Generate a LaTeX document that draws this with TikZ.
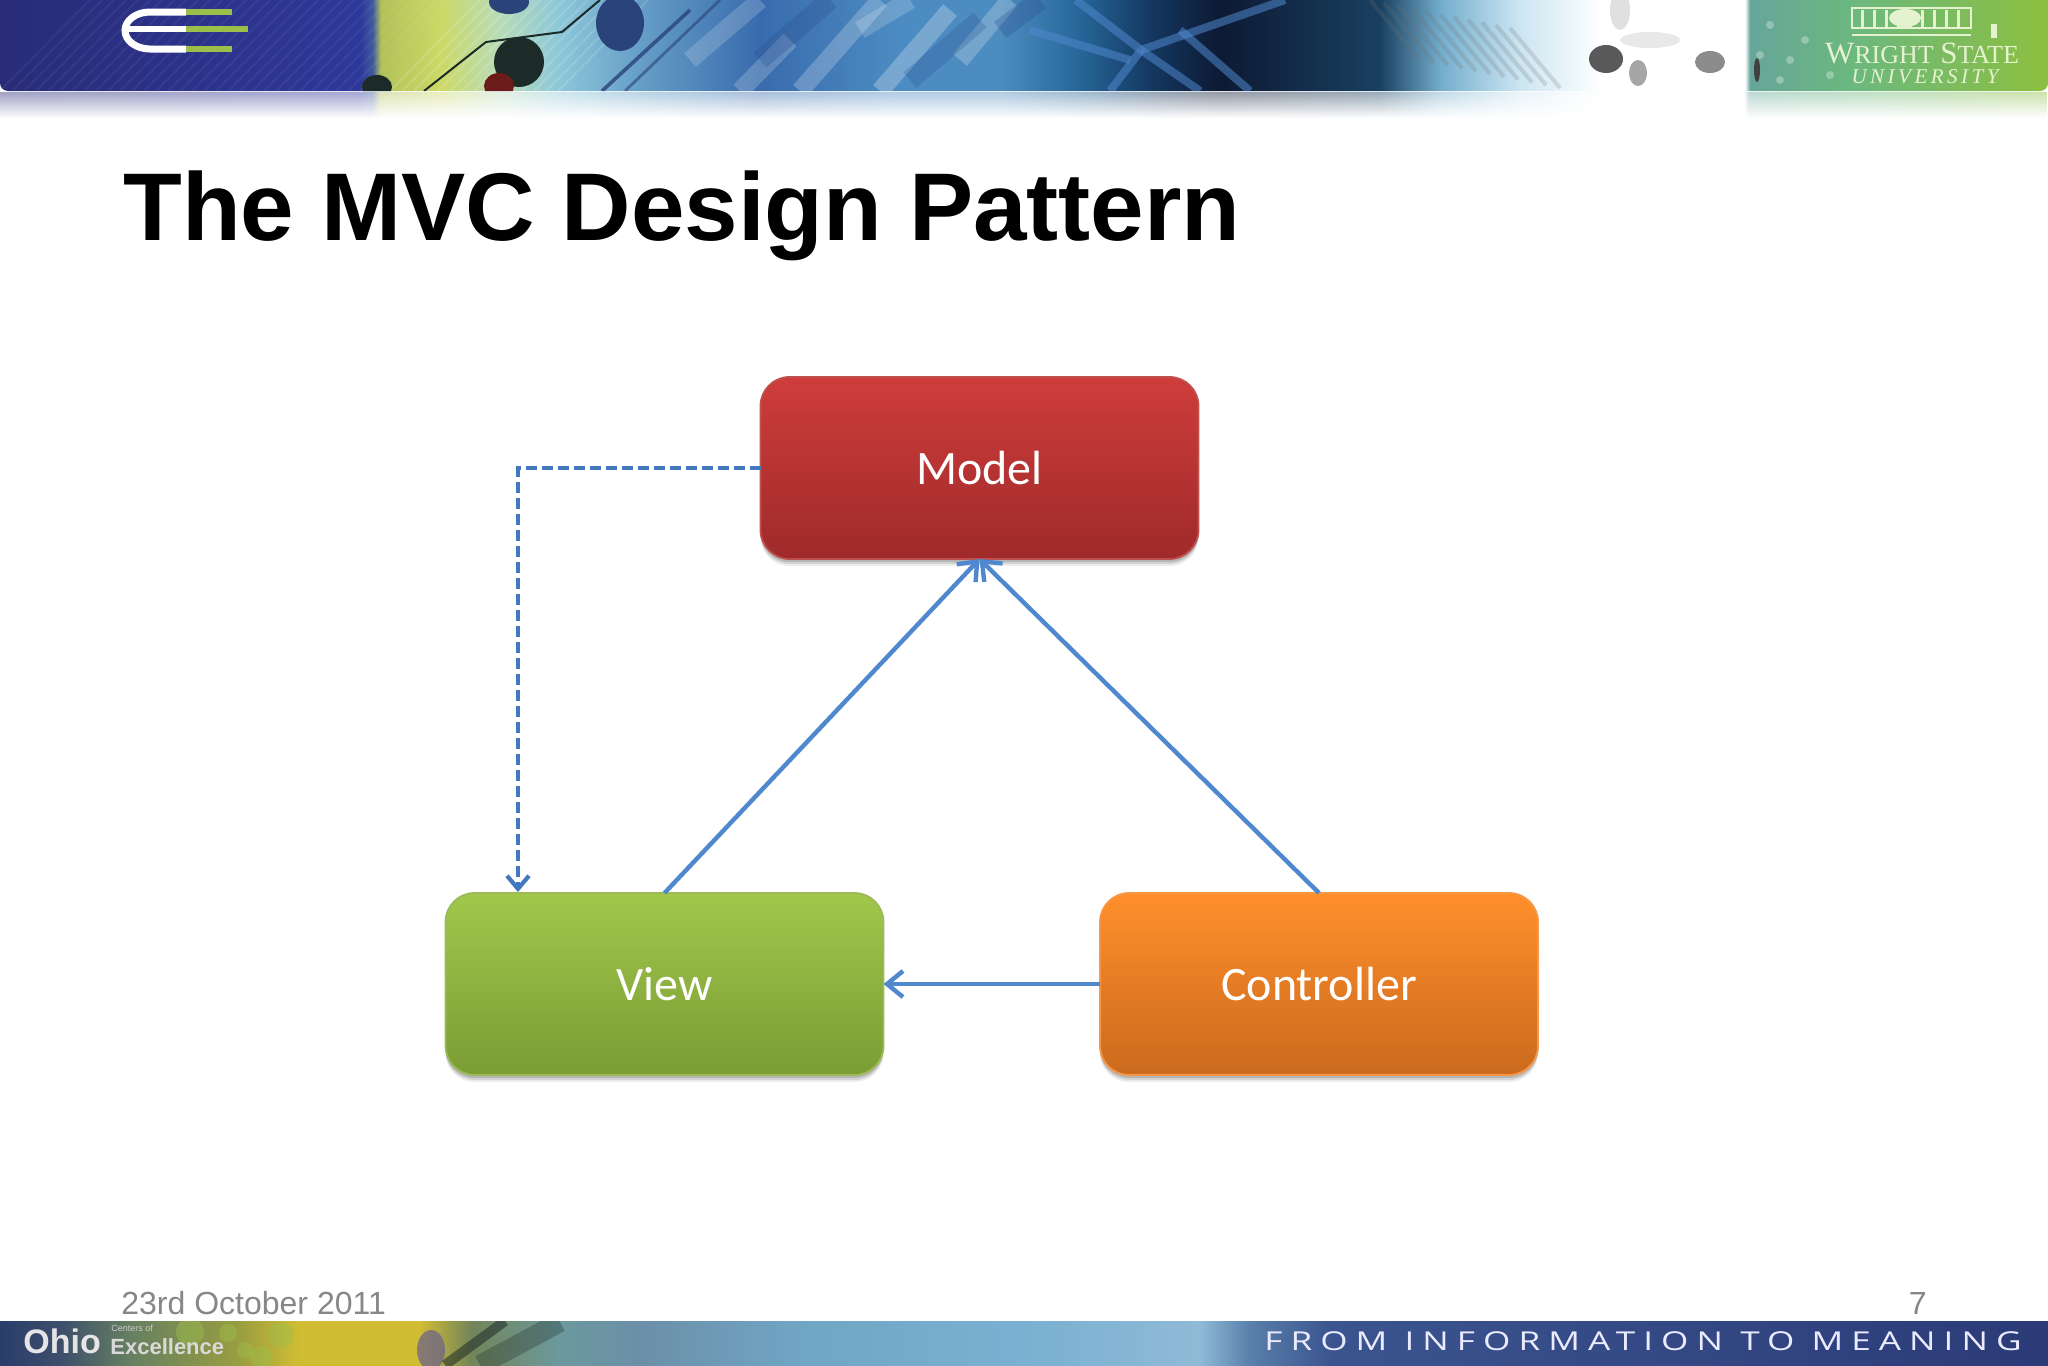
\documentclass[tikz,border=0pt]{standalone}
\usepackage{fontspec}
\setmainfont{Liberation Sans}
\newfontfamily\carlito{Carlito}
\newfontfamily\wsufont{Liberation Serif}
\newfontfamily\tagfont[LetterSpace=31,FakeStretch=1.35]{Open Sans}
\usetikzlibrary{arrows.meta,fadings}
\pgfdeclarehorizontalshading{topband}{100bp}{rgb(0bp)=(.16,.17,.47);rgb(25bp)=(.16,.17,.47);rgb(33.8bp)=(.18,.22,.60);rgb(34.1bp)=(.25,.35,.62);rgb(34.3bp)=(.70,.76,.35);rgb(35.75bp)=(.80,.85,.40);rgb(37.2bp)=(.72,.86,.72);rgb(38.65bp)=(.55,.78,.85);rgb(40.6bp)=(.40,.62,.78);rgb(43.55bp)=(.22,.42,.68);rgb(47bp)=(.30,.55,.76);rgb(49.4bp)=(.30,.55,.75);rgb(51.35bp)=(.15,.40,.60);rgb(53.08bp)=(.08,.22,.38);rgb(54.79bp)=(.05,.10,.20);rgb(58.69bp)=(.10,.25,.38);rgb(60.16bp)=(.45,.68,.80);rgb(62.1bp)=(.80,.90,.95);rgb(64.06bp)=(1,1,1);rgb(67.6bp)=(1,1,1);rgb(67.72bp)=(.40,.65,.60);rgb(70.15bp)=(.42,.72,.50);rgb(75bp)=(.55,.75,.25);rgb(100bp)=(.55,.75,.25)}
\pgfdeclarehorizontalshading{bottomband}{100bp}{rgb(0bp)=(.16,.24,.42);rgb(25bp)=(.16,.24,.42);rgb(26.5bp)=(.24,.31,.42);rgb(28.17bp)=(.40,.50,.38);rgb(30.86bp)=(.60,.62,.25);rgb(32.3bp)=(.82,.74,.20);rgb(35.25bp)=(.82,.74,.20);rgb(36.5bp)=(.45,.52,.35);rgb(38.67bp)=(.42,.60,.62);rgb(40.6bp)=(.42,.56,.66);rgb(44.5bp)=(.44,.65,.77);rgb(50bp)=(.48,.69,.82);rgb(54.3bp)=(.56,.73,.84);rgb(55.5bp)=(.35,.50,.67);rgb(57.5bp)=(.23,.33,.56);rgb(75bp)=(.17,.23,.47);rgb(100bp)=(.17,.23,.47)}
\definecolor{linkblue}{HTML}{4F88CE}
\definecolor{dashblue}{HTML}{4279BC}
\definecolor{modeltop}{HTML}{CE3D3B}
\definecolor{modelbot}{HTML}{9F2A2A}
\definecolor{modelline}{HTML}{C0504D}
\definecolor{viewtop}{HTML}{A2C74B}
\definecolor{viewbot}{HTML}{7A9C34}
\definecolor{viewline}{HTML}{9BBB59}
\definecolor{ctrltop}{HTML}{FF8F2B}
\definecolor{ctrlbot}{HTML}{CB6A1E}
\definecolor{ctrlline}{HTML}{F79646}
\definecolor{logogreen}{HTML}{9CBF4A}
\definecolor{panelpale}{HTML}{E4F2D0}
\definecolor{blockdark}{HTML}{2B4F8E}
\definecolor{blobdark}{HTML}{1C2A28}
\definecolor{blobblue}{HTML}{2A4378}
\definecolor{blobgrape}{HTML}{6E6488}
\tikzset{
  x=.5pt,y=-.5pt,
  boxshadow/.style={preaction={draw=none,fill=black,opacity=.07,transform canvas={yshift=-3.5pt}},
                    preaction={draw=none,fill=black,opacity=.10,transform canvas={yshift=-2.5pt}},
                    preaction={draw=none,fill=black,opacity=.14,transform canvas={yshift=-1.5pt}}},
  mvcbox/.style={boxshadow,rounded corners=14.5pt,minimum width=219pt,minimum height=91pt,inner sep=0pt,outer sep=0pt,
    line width=.9pt,text=white,font=\carlito\fontsize{24}{28}\selectfont},
  link/.style={draw=linkblue,line width=2.2pt,-{Straight Barb[length=8pt,width=13pt,line width=2.2pt]}},
  dashlink/.style={draw=dashblue,line width=2.1pt,dash pattern=on 5.5pt off 2.5pt,-{Straight Barb[length=6.5pt,width=11pt,line width=2.1pt]}},
  blob/.style={fill=#1,draw=none},
}
\begin{document}
\begin{tikzpicture}
\useasboundingbox (0,0) rectangle (2048,1365);
\fill[white] (0,0) rectangle (2048,1365);

% --- top banner ---
\shade[shading=topband,opacity=.42,path fading=south] (0,93) rectangle (2048,118);
\begin{scope}
\clip[rounded corners=4pt] (0,-20) rectangle (2048,91);
\shade[shading=topband] (0,-20) rectangle (2048,91);
\foreach \i in {0,12,...,360}{\draw[white,opacity=.05,line width=1pt] (\i,91) -- (\i+90,0);}
\foreach \i in {390,402,...,560}{\draw[white,opacity=.14,line width=1pt] (\i,91) -- (\i+90,0);}
% circuit board
\foreach \a/\b/\c/\d/\op in {690/60/760/0/.18,800/91/880/0/.22,880/91/950/10/.25,960/60/1010/0/.22,860/30/910/0/.18,740/91/790/40/.2}{
  \draw[white,line width=9pt,opacity=\op] (\a,\b) -- (\c,\d);}
\foreach \a/\b/\c/\d/\op in {760/60/830/0/.3,910/80/980/20/.25,1000/30/1040/0/.3}{
  \draw[blockdark,line width=10pt,opacity=\op] (\a,\b) -- (\c,\d);}
\draw[blobblue,line width=1.8pt,opacity=.8] (602,91) -- (690,10);
\draw[blobblue,line width=1.4pt,opacity=.6] (625,91) -- (720,0);
\draw[blobdark,line width=1pt] (424,91) -- (486,42) -- (562,32) -- (600,0);
\fill[blob=blobdark] (519,62) ellipse (25 and 25);
\fill[blob=blobblue] (620,23) ellipse (24 and 28);
\fill[blob=blobblue] (509,2) ellipse (20 and 12);
\fill[blob=blobdark] (377,87) ellipse (15 and 12);
\fill[blob={red!35!blobdark}] (499,86) ellipse (15 and 13);
% E logo
\draw[white,line width=3.5pt] (186,12) -- (150,12) arc (-90:-270:25 and 18.5) -- (186,49);
\draw[white,line width=3.2pt] (125,29) -- (186,29);
\draw[logogreen,line width=3.2pt] (186,12) -- (232,12) (186,29) -- (248,29) (186,49) -- (232,49);
% filament / X-ray
\foreach \a/\b/\c/\d in {1076/0/1141/50,1285/0/1141/50,1141/50/1200/91,1141/50/1110/91,1180/30/1250/91,1030/30/1130/60}{
  \draw[linkblue,line width=4pt,opacity=.55] (\a,\b) -- (\c,\d);}
\foreach \i in {0,14,...,150}{\draw[black!55,opacity=.22,line width=2pt] (1370+\i,\i/5) -- (1420+\i,\i/5+60);}
% face
\fill[blob=black!65] (1606,59) ellipse (17 and 14);
\fill[blob=black!45] (1710,62) ellipse (15 and 11);
\fill[blob=black!35] (1638,73) ellipse (9 and 13);
\fill[blob=black!20,opacity=.6] (1620,10) ellipse (10 and 20);
\fill[blob=black!15,opacity=.6] (1650,40) ellipse (30 and 8);
\fill[blob=black!75] (1757,70) ellipse (3 and 12);
% Wright State panel
\foreach \a/\b in {1770/25,1790/60,1805/40,1780/80,1830/75,1760/55}{\fill[white,opacity=.3] (\a,\b) circle (4);}
\draw[panelpale,line width=.8pt] (1852,8) rectangle (1971,28);
\foreach \i in {1862,1874,...,1964}{\draw[panelpale,line width=1.5pt] (\i,10) -- (\i,27);}
\fill[panelpale] (1905,18) ellipse (16 and 9);
\draw[panelpale,line width=1pt] (1852,35) -- (1971,35);
\fill[panelpale] (1991,24) rectangle (1997,38);
\end{scope}
\node[anchor=base,inner sep=0pt,text=panelpale,font=\wsufont\fontsize{15.5}{17}\selectfont] (wsu) at (1922,63) {W\fontsize{13}{14}\selectfont RIGHT \fontsize{15.5}{17}\selectfont S\fontsize{13}{14}\selectfont TATE};
\node[anchor=base,inner sep=0pt,text=panelpale,font=\wsufont\itshape\fontsize{10.5}{12}\selectfont] (univ) at (1925,83) {U\,N\,I\,V\,E\,R\,S\,I\,T\,Y};

% --- title and footer text ---
\node[anchor=base west,inner sep=0pt,font=\bfseries\fontsize{48.1}{56}\selectfont] (title) at (123,240.5) {The MVC Design Pattern};
\node[anchor=base west,inner sep=0pt,text=black!47,font=\fontsize{16}{18}\selectfont] (date) at (121,1314) {23rd October 2011};
\node[anchor=base east,inner sep=0pt,text=black!47,font=\fontsize{16}{18}\selectfont] (page) at (1927,1314) {7};

% --- bottom banner ---
\begin{scope}
\clip (0,1321) rectangle (2048,1365);
\shade[shading=bottomband] (0,1321) rectangle (2048,1365);
\foreach \a/\b/\r in {190/1332/14,228/1333/9,281/1335/13,261/1357/11,245/1350/8}{
  \fill[logogreen,opacity=.45] (\a,\b) circle (\r);}
\fill[blob=blobgrape,opacity=.75] (431,1350) ellipse (14 and 20);
\draw[blobdark,line width=5pt,opacity=.55] (445,1365) -- (505,1321);
\draw[blobdark,line width=10pt,opacity=.3] (480,1365) -- (560,1322);
\end{scope}
\node[anchor=base west,inner sep=0pt,text=white!90!black,font=\bfseries\fontsize{17}{18}\selectfont] (ohio) at (23,1353) {Ohio};
\node[anchor=base west,inner sep=0pt,text=white!80!black,font=\fontsize{4.5}{5}\selectfont] (centers) at (111,1331) {Centers of};
\node[anchor=base west,inner sep=0pt,text=white!85!black,font=\bfseries\fontsize{11}{12}\selectfont] (excel) at (110,1354) {Excellence};
\node[anchor=base west,inner sep=0pt,text=blue!8!white,font=\tagfont\fontsize{13}{14}\selectfont] (tag) at (1264,1350) {FROM INFORMATION TO MEANING};

% --- MVC diagram ---
\node[mvcbox,draw=modelline,top color=modeltop,bottom color=modelbot] (model) at (979.5,468) {Model};
\node[mvcbox,draw=viewline,top color=viewtop,bottom color=viewbot] (view) at (664.5,984) {View};
\node[mvcbox,draw=ctrlline,top color=ctrltop,bottom color=ctrlbot] (controller) at (1319,984) {Controller};
\coordinate (drop) at (518,892);
\draw[link] (view.north) -- (model.south);
\draw[link] (controller.north) -- (model.south);
\draw[link] (controller.west) -- (view.east);
\draw[dashlink] (model.west) -| (drop);
\end{tikzpicture}
\end{document}
